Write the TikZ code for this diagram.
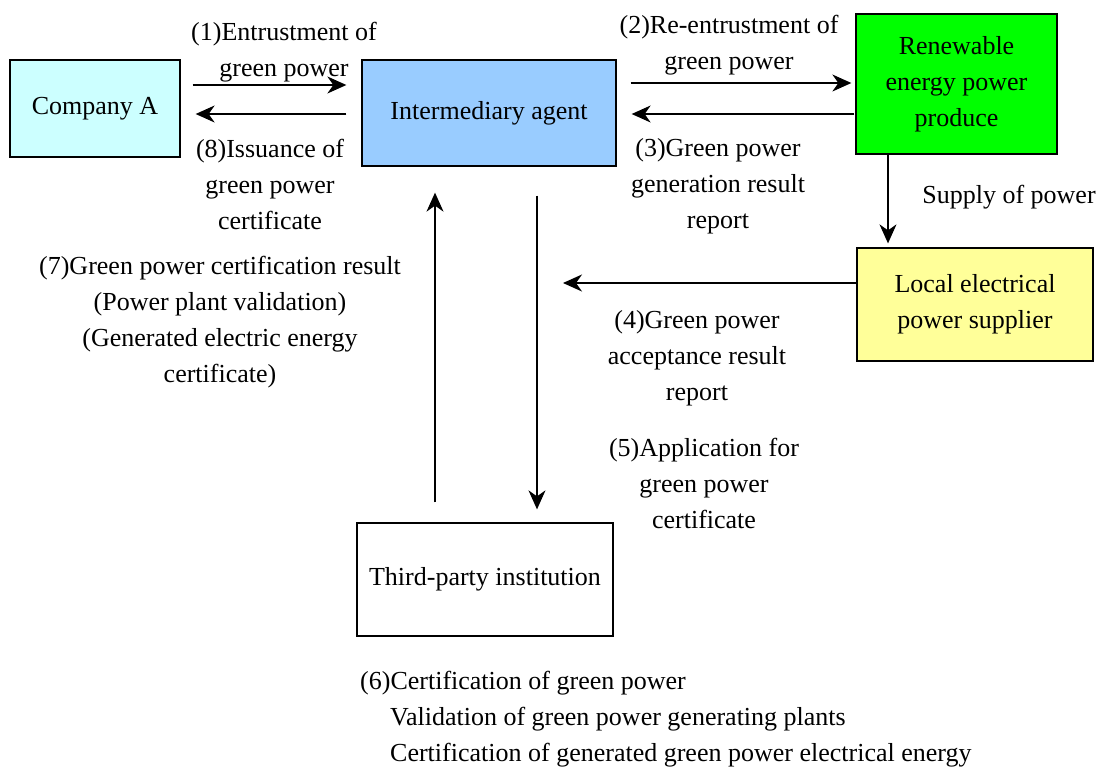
\documentclass[tikz,border=0pt]{standalone}
\usepackage{fontspec}
\setmainfont{Liberation Serif}
\usetikzlibrary{arrows.meta}
\definecolor{cyanbox}{HTML}{CCFFFF}
\definecolor{bluebox}{HTML}{99CCFF}
\definecolor{greenbox}{HTML}{00FF00}
\definecolor{yellowbox}{HTML}{FFFF99}
\begin{document}
\begin{tikzpicture}[x=1pt,y=-1pt,
  font=\fontsize{26}{36}\selectfont,
  box/.style={draw=black,line width=1.3pt,inner sep=0pt,align=center},
  lbl/.style={inner sep=0pt,align=center},
  arr/.style={line width=1.3pt,-{Stealth[length=19pt,width=17pt,inset=6pt]}}]
\useasboundingbox (0,0) rectangle (1098,766);
% boxes
\node[box,fill=cyanbox,minimum width=170pt,minimum height=97pt] (A) at (95,108.5) {\raisebox{-3pt}{Company A}};
\node[box,fill=bluebox,minimum width=254pt,minimum height=106pt] (I) at (489,113) {\raisebox{-2pt}{Intermediary agent}};
\node[box,fill=greenbox,minimum width=201pt,minimum height=140pt] (G) at (956.5,84) {Renewable\\energy power\\produce};
\node[box,fill=yellowbox,minimum width=236pt,minimum height=113pt] (Y) at (975,304.5) {Local electrical\\power supplier};
\node[box,fill=white,minimum width=256pt,minimum height=113pt] (T) at (485,579.5) {\raisebox{-3pt}{Third-party institution}};
\coordinate (p4) at (563,283);
% connectors
\draw[arr,shorten <=12pt,shorten >=15pt] (A.east |- 0,85) -- (I.west |- 0,85);
\draw[arr,shorten <=15pt,shorten >=15pt] (I.west |- 0,114) -- (A.east |- 0,114);
\draw[arr,shorten <=14pt,shorten >=4pt] (I.east |- 0,83) -- (G.west |- 0,83);
\draw[arr,shorten <=1pt,shorten >=15pt] (G.west |- 0,114) -- (I.east |- 0,114);
\draw[arr,shorten >=4pt] (G.south -| 888,0) -- (Y.north -| 888,0);
\draw[arr] (Y.west |- p4) -- (p4);
\draw[arr,shorten <=29pt,shorten >=13pt] (I.south -| 537,0) -- (T.north -| 537,0);
\draw[arr,shorten <=20pt,shorten >=26pt] (T.north -| 435,0) -- (I.south -| 435,0);
% labels
\node[lbl] (l1) at (284,52) {(1)Entrustment of\\green power};
\node[lbl] (l8) at (270,184) {(8)Issuance of\\green power\\certificate};
\node[lbl] (l2) at (729,45) {(2)Re-entrustment of\\green power};
\node[lbl] (l3) at (718,186) {(3)Green power\\generation result\\report};
\node[lbl] (ls) at (1009,197) {Supply of power};
\node[lbl] (l4) at (697,358) {(4)Green power\\acceptance result\\report};
\node[lbl] (l5) at (704,483) {(5)Application for\\green power\\certificate};
\node[lbl] (l7) at (220,322) {(7)Green power certification result\\(Power plant validation)\\(Generated electric energy\\certificate)};
\node[lbl,align=left,anchor=west] (l6) at (360,719) {(6)Certification of green power\\\hspace*{30pt}Validation of green power generating plants\\\hspace*{30pt}Certification of generated green power electrical energy};
\end{tikzpicture}
\end{document}
